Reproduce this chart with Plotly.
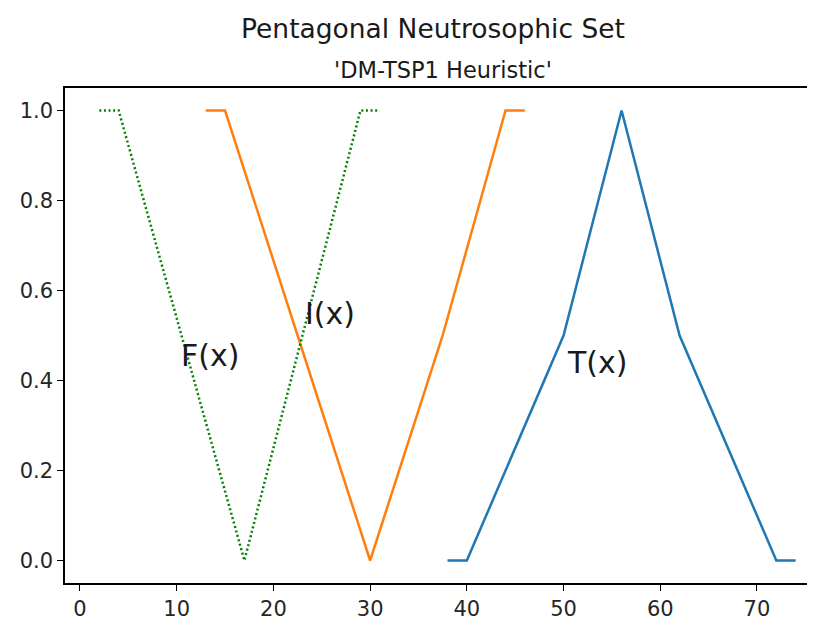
import plotly.graph_objects as go

# Data
t_x = [38, 40, 50, 56, 62, 72, 74]
t_y = [0, 0, 0.5, 1, 0.5, 0, 0]
i_x = [13, 15, 22.5, 30, 37.5, 44, 46]
i_y = [1, 1, 0.5, 0, 0.5, 1, 1]
f_x = [2, 4, 10.5, 17, 23, 29, 31]
f_y = [1, 1, 0.5, 0, 0.5, 1, 1]

labels = ["T(x)", "I(x)", "F(x)"]
label_x = [50.1, 23.1, 10.2]
label_y = [0.44, 0.55, 0.455]

x_ticks = [0, 10, 20, 30, 40, 50, 60, 70]
y_ticks = [0.0, 0.2, 0.4, 0.6, 0.8, 1.0]

title = "Pentagonal Neutrosophic Set"
subtitle = "'DM-TSP1 Heuristic'"

# page body has an 8px margin: figure occupies (8,8)..(815,621)
OFF = 8
W, H = 815 - OFF, 621 - OFF
L, T, R, B = 65 - OFF, 88 - OFF, 0, 621 - 583
PW, PH = W - L - R, H - T - B

fig = go.Figure()
fig.add_trace(go.Scatter(x=t_x, y=t_y, mode="lines",
                         line=dict(color="#1f77b4", width=2.5)))
fig.add_trace(go.Scatter(x=i_x, y=i_y, mode="lines",
                         line=dict(color="#ff7f0e", width=2.5)))
fig.add_trace(go.Scatter(x=f_x, y=f_y, mode="lines",
                         line=dict(color="#008000", width=2.5, dash="2px,2.6px")))

font_family = "DejaVu Sans"
for txt, lx, ly in zip(labels, label_x, label_y):
    fig.add_annotation(x=lx, y=ly, text=txt, showarrow=False, xref="x", yref="y",
                       xanchor="left", yanchor="middle",
                       font=dict(family=font_family, size=30, color="#1a1a1a"))


def px_to_paper(px, py):
    return (px - OFF - L) / PW, (H - B - (py - OFF)) / PH


tx, ty = px_to_paper(433, 28)
fig.add_annotation(x=tx, y=ty, xref="paper", yref="paper", text=title, showarrow=False,
                   xanchor="center", yanchor="middle",
                   font=dict(family=font_family, size=26.5, color="#1a1a1a"))
sx, sy = px_to_paper(443, 70)
fig.add_annotation(x=sx, y=sy, xref="paper", yref="paper", text=subtitle, showarrow=False,
                   xanchor="center", yanchor="middle",
                   font=dict(family=font_family, size=22.5, color="#1a1a1a"))

fig.update_layout(
    width=W, height=H,
    margin=dict(l=L, r=R, t=T, b=B, autoexpand=False),
    paper_bgcolor="white", plot_bgcolor="white",
    showlegend=False,
    font=dict(family=font_family, size=21, color="#262626"),
)
fig.update_xaxes(range=[-1.55, 76.0], tickvals=x_ticks, ticktext=[str(v) for v in x_ticks],
                 showgrid=False, zeroline=False, showline=True, linecolor="black",
                 linewidth=1.5, mirror=True, ticks="outside", ticklen=6, tickwidth=1.2,
                 tickcolor="black")
fig.update_yaxes(range=[-0.05, 1.05], tickvals=y_ticks, ticktext=[f"{v:.1f}" for v in y_ticks],
                 showgrid=False, zeroline=False, showline=True, linecolor="black",
                 linewidth=1.5, mirror=False, ticks="outside", ticklen=6, tickwidth=1.2,
                 tickcolor="black")

fig.write_html("out.html")
